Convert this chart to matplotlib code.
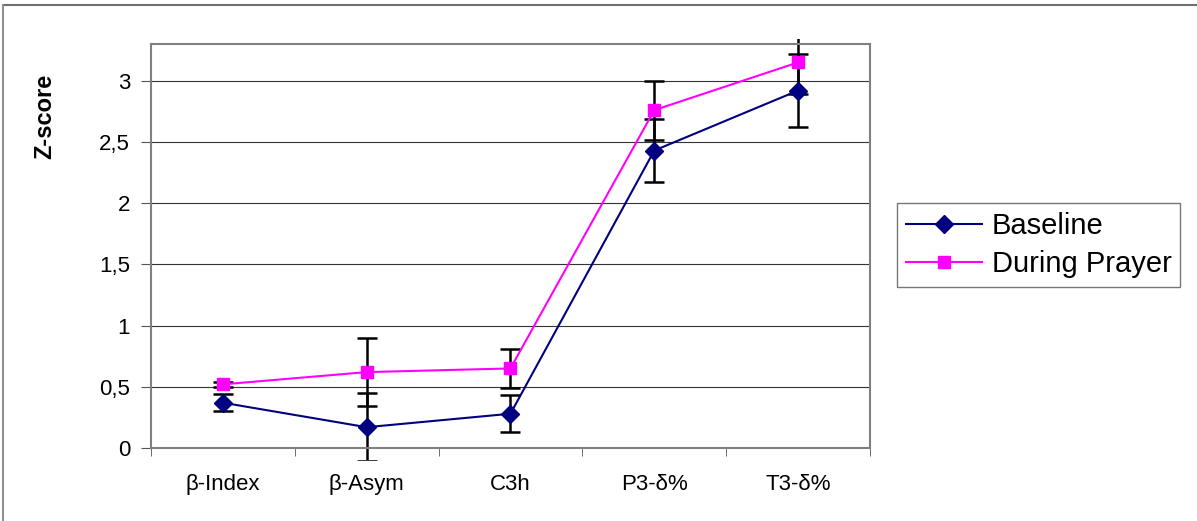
import numpy as np
import matplotlib.pyplot as plt
from matplotlib.lines import Line2D
from matplotlib.patches import Rectangle

plt.rcParams['font.family'] = ['Liberation Sans', 'DejaVu Sans']

categories = ['β-Index', 'β-Asym', 'C3h', 'P3-δ%', 'T3-δ%']
baseline = [0.37, 0.17, 0.28, 2.43, 2.92]
baseline_err = [0.07, 0.28, 0.15, 0.26, 0.30]
prayer = [0.52, 0.62, 0.65, 2.76, 3.15]
prayer_err = [0.02, 0.28, 0.16, 0.24, 0.26]
yticks = [0, 0.5, 1, 1.5, 2, 2.5, 3]
ytick_labels = ['0', '0,5', '1', '1,5', '2', '2,5', '3']

fig = plt.figure(figsize=(11.97, 5.21), dpi=100)
ax = fig.add_axes([0.1261, 0.1401, 0.6007, 0.7754])

x = np.arange(len(categories))

# grid lines
for yt in yticks[1:]:
    ax.axhline(yt, color='#333333', lw=0.8, zorder=1)

clip = Rectangle((0, -0.03), 1, 1.043, transform=ax.transAxes, fill=False, visible=False)
ax.add_patch(clip)
for vals, errs in [(baseline, baseline_err), (prayer, prayer_err)]:
    eb = ax.errorbar(x, vals, yerr=errs, fmt='none', ecolor='black', elinewidth=1.8,
                     capsize=7, capthick=1.8, zorder=2)
    for art in list(eb.lines[1]) + list(eb.lines[2]):
        art.set_clip_path(clip)

l1, = ax.plot(x, baseline, color='#000080', lw=1.5, marker='D', markersize=9,
              markerfacecolor='#000080', markeredgecolor='#000080', zorder=3, label='Baseline')
l2, = ax.plot(x, prayer, color='#FF00FF', lw=1.5, marker='s', markersize=9,
              markerfacecolor='#FF00FF', markeredgecolor='#FF00FF', zorder=3, label='During Prayer')

ax.set_xlim(-0.5, 4.5)
ax.set_ylim(0, 3.3)
ax.set_yticks(yticks)
ax.set_yticklabels(ytick_labels, fontsize=16)
ax.set_xticks(x)
ax.set_xticklabels(categories, fontsize=16)
ax.set_xticks(np.arange(-0.5, 5, 1), minor=True)
ax.tick_params(axis='x', which='major', length=0, pad=19)
ax.tick_params(axis='x', which='minor', length=6, color='#555555', direction='out')
ax.tick_params(axis='y', length=7, color='#555555', direction='out', pad=8)

for s in ax.spines.values():
    s.set_color('#808080')
    s.set_linewidth(1.5)

ax.set_ylabel('Z-score', fontsize=17, fontweight='bold')
ax.yaxis.set_label_coords(-0.132, 0.82)

leg = fig.legend(handles=[l1, l2], loc='upper left', bbox_to_anchor=(897 / 1197, 1 - 203 / 521),
                 fontsize=21, frameon=True, fancybox=False, handlelength=2.6,
                 borderpad=0.3, labelspacing=0.35, handletextpad=0.35, borderaxespad=0)
leg.get_frame().set_edgecolor('#555555')
leg.get_frame().set_linewidth(1.0)

# outer chart border (top and left visible)
fig.add_artist(Line2D([3 / 1197, 1196 / 1197], [1 - 5 / 521, 1 - 5 / 521],
                      transform=fig.transFigure, color='#707070', lw=1.5))
fig.add_artist(Line2D([3 / 1197, 3 / 1197], [0, 1 - 5 / 521],
                      transform=fig.transFigure, color='#909090', lw=1.5))

fig.savefig('out.png', dpi=100)
